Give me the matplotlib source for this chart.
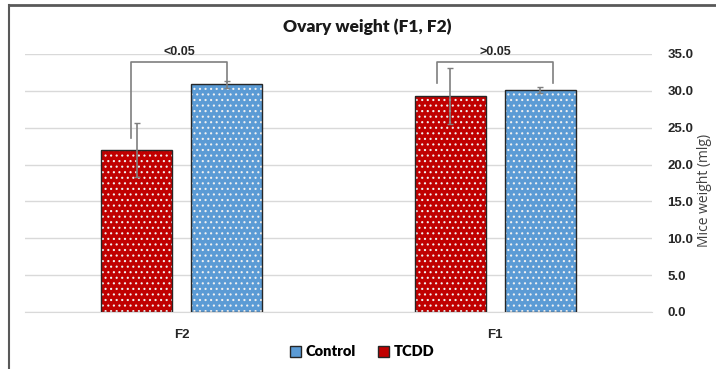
import matplotlib
matplotlib.use("Agg")
import matplotlib.pyplot as plt
from matplotlib.patches import Patch
from matplotlib.lines import Line2D
import numpy as np

# datos
grupos = ['F2', 'F1']
series = ['TCDD', 'Control']
tcdd = [22.0, 29.3]
tcdd_err = [3.7, 3.8]
control = [30.9, 30.1]
control_err = [0.5, 0.45]
pvalores = ['<0.05', '>0.05']
yticks = [0, 5, 10, 15, 20, 25, 30, 35]

rojo = '#C00000'
azul = '#5B9BD5'
gris = '#7F7F7F'

plt.rcParams['hatch.linewidth'] = 0.8

fig = plt.figure(figsize=(7.16, 3.69), dpi=100)
ax = fig.add_axes([25/716, 1-312/369, 627/716, 258/369])

x = np.arange(len(grupos))
w = 0.226
off = 0.143

for vals, errs, col, dx in [(tcdd, tcdd_err, rojo, -off), (control, control_err, azul, off)]:
    ax.bar(x+dx, vals, w, color=col, edgecolor='none', zorder=2)
    # puntitos blancos
    ax.bar(x+dx, vals, w, color='none', edgecolor='#f0f0f0', hatch='...', linewidth=0, zorder=3)
    ax.bar(x+dx, vals, w, color='none', edgecolor='#262626', linewidth=1, zorder=3.5)
    ax.errorbar(x+dx, vals, yerr=errs, fmt='none', ecolor=gris, elinewidth=1.2, capsize=2.5, zorder=4)

# corchetes de significancia
brackets = [(-0.162, 0.144, 23.6, 31.2), (0.814, 1.184, 31.1, 31.1)]
top = 33.9
for i, (xl, xr, yl, yr) in enumerate(brackets):
    ax.plot([xl, xl, xr, xr], [yl, top, top, yr], color=gris, lw=1.2, clip_on=False, zorder=5)
    ax.text((xl+xr)/2, top+0.6, pvalores[i], ha='center', va='bottom', fontsize=9,
            fontweight='bold', family='Liberation Sans', color='#262626')

ax.set_xlim(-0.5, 1.5)
ax.set_ylim(0, 35)
ax.set_yticks(yticks)
ax.set_yticklabels(['%.1f' % v for v in yticks], fontsize=9.5, fontweight='bold',
                   family='Liberation Sans', color='#262626')
ax.yaxis.tick_right()
ax.tick_params(axis='y', length=0, pad=11)
ax.set_xticks(x)
ax.set_xticklabels(grupos, fontsize=9.5, fontweight='bold', family='Liberation Sans', color='#262626')
ax.tick_params(axis='x', length=0, pad=12)
ax.grid(axis='y', color='#D9D9D9', lw=1, zorder=0)
ax.set_axisbelow(True)
for s in ['top', 'left', 'right']:
    ax.spines[s].set_visible(False)
ax.spines['bottom'].set_color('#D9D9D9')

fig.text(705/716, 1-190/369, 'Mice weight (mlg)', rotation=90, ha='center', va='center',
         fontsize=10, family='Open Sans', color='#404040')
fig.text(367/716, 1-27/369, 'Ovary weight (F1, F2)', ha='center', va='center',
         fontsize=12.5, fontweight='heavy', family='Lato', color='#1a1a1a')

handles = [Patch(facecolor=azul, edgecolor='#262626', label='Control'),
           Patch(facecolor=rojo, edgecolor='#262626', label='TCDD')]
fig.legend(handles=handles, loc='center', bbox_to_anchor=(362/716, 1-352/369), ncol=2,
           frameon=False, prop={'family': 'Lato', 'weight': 'heavy', 'size': 10.5},
           handlelength=0.8, handleheight=0.8, handletextpad=0.3, columnspacing=1.5)

# marco
fig.add_artist(Line2D([9/716, 9/716], [0, 1-5/369], transform=fig.transFigure,
                      color='#595959', lw=1.5))
fig.add_artist(Line2D([9/716, 1], [1-5/369, 1-5/369], transform=fig.transFigure,
                      color='#595959', lw=2))

fig.savefig('out.png', dpi=100)
